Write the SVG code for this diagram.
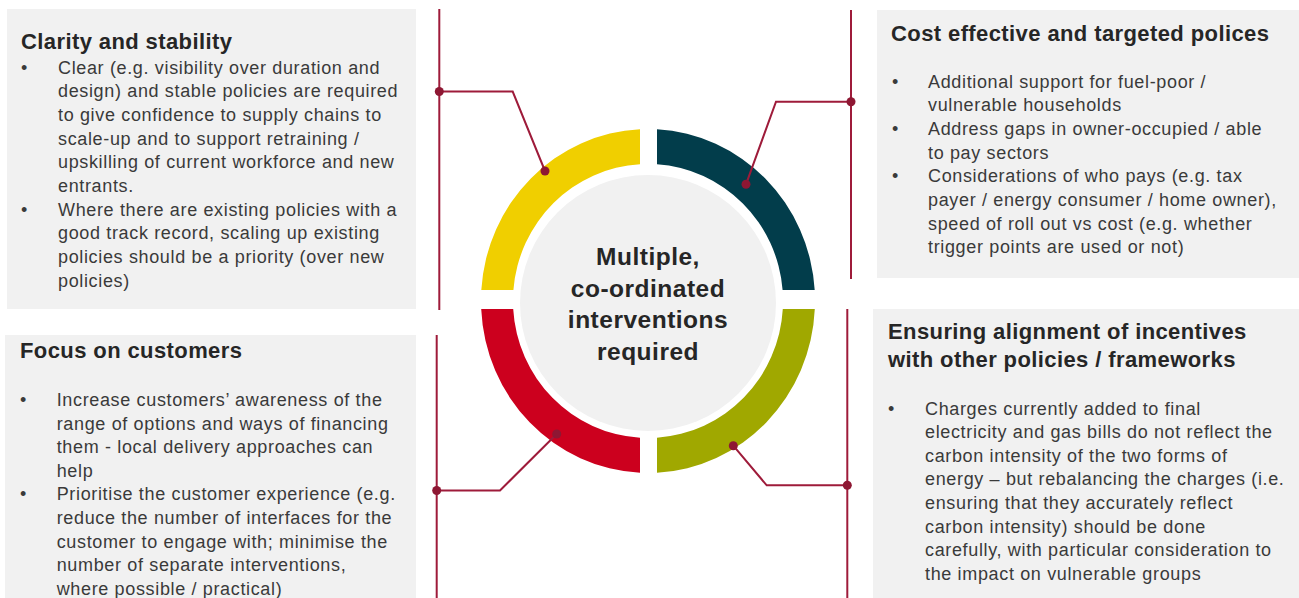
<svg xmlns="http://www.w3.org/2000/svg" width="1299" height="598" viewBox="0 0 1299 598">
<style>
.box{fill:#f1f1f1}
.t{font-family:"Liberation Sans",Arial,sans-serif;font-size:22px;font-weight:bold;fill:#262626;letter-spacing:0.4px}
.b{font-family:"Liberation Sans",Arial,sans-serif;font-size:18px;fill:#3a3a3a;letter-spacing:0.65px}
.c{font-family:"Liberation Sans",Arial,sans-serif;font-size:24.5px;font-weight:bold;fill:#262626;letter-spacing:0.5px;text-anchor:middle}
.ln{fill:none;stroke:#9e1b3a;stroke-width:2}
.dot{fill:#8e1733}
</style>
<rect width="1299" height="598" fill="#ffffff"/>
<g id="ring">
<path d="M481.3,290 A167,172 0 0 1 640,129.2 L640,164.2 A135,137 0 0 0 513.4,290 Z" fill="#f0cf00"/>
<path d="M657,129.25 A167,172 0 0 1 814.7,290 L782.6,290 A135,137 0 0 0 657,164.3 Z" fill="#023d4b"/>
<path d="M481.2,309 A167,172 0 0 0 640,472.8 L640,437.8 A135,137 0 0 1 513.2,309 Z" fill="#cc001e"/>
<path d="M657,472.75 A167,172 0 0 0 814.8,309 L782.8,309 A135,137 0 0 1 657,437.7 Z" fill="#a0a800"/>
<circle cx="648" cy="303" r="128" fill="#f1f1f1"/>
<text class="c" x="648" y="265">Multiple,</text>
<text class="c" x="648" y="296.5">co-ordinated</text>
<text class="c" x="648" y="328">interventions</text>
<text class="c" x="648" y="359.5">required</text>
</g>
<g id="clarity">
<rect class="box" x="7" y="9" width="409" height="300"/>
<text class="t" x="21" y="49">Clarity and stability</text>
<text class="b" x="21" y="73.5">•</text>
<text class="b" x="58" y="73.5">Clear (e.g. visibility over duration and</text>
<text class="b" x="58" y="97.2">design) and stable policies are required</text>
<text class="b" x="58" y="120.9">to give confidence to supply chains to</text>
<text class="b" x="58" y="144.6">scale-up and to support retraining /</text>
<text class="b" x="58" y="168.3">upskilling of current workforce and new</text>
<text class="b" x="58" y="192">entrants.</text>
<text class="b" x="21" y="215.7">•</text>
<text class="b" x="58" y="215.7">Where there are existing policies with a</text>
<text class="b" x="58" y="239.4">good track record, scaling up existing</text>
<text class="b" x="58" y="263.1">policies should be a priority (over new</text>
<text class="b" x="58" y="286.8">policies)</text>
</g>
<g id="cost">
<rect class="box" x="877" y="10" width="422" height="268"/>
<text class="t" x="891" y="41">Cost effective and targeted polices</text>
<text class="b" x="892" y="87.5">•</text>
<text class="b" x="928" y="87.5">Additional support for fuel-poor /</text>
<text class="b" x="928" y="111.2">vulnerable households</text>
<text class="b" x="892" y="134.9">•</text>
<text class="b" x="928" y="134.9">Address gaps in owner-occupied / able</text>
<text class="b" x="928" y="158.6">to pay sectors</text>
<text class="b" x="892" y="182.3">•</text>
<text class="b" x="928" y="182.3">Considerations of who pays (e.g. tax</text>
<text class="b" x="928" y="206">payer / energy consumer / home owner),</text>
<text class="b" x="928" y="229.7">speed of roll out vs cost (e.g. whether</text>
<text class="b" x="928" y="253.4">trigger points are used or not)</text>
</g>
<g id="customers">
<rect class="box" x="5" y="335" width="411" height="263"/>
<text class="t" x="20" y="358">Focus on customers</text>
<text class="b" x="20" y="406">•</text>
<text class="b" x="56.7" y="406">Increase customers’ awareness of the</text>
<text class="b" x="56.7" y="429.6">range of options and ways of financing</text>
<text class="b" x="56.7" y="453.2">them - local delivery approaches can</text>
<text class="b" x="56.7" y="476.8">help</text>
<text class="b" x="20" y="500.4">•</text>
<text class="b" x="56.7" y="500.4">Prioritise the customer experience (e.g.</text>
<text class="b" x="56.7" y="524">reduce the number of interfaces for the</text>
<text class="b" x="56.7" y="547.6">customer to engage with; minimise the</text>
<text class="b" x="56.7" y="571.2">number of separate interventions,</text>
<text class="b" x="56.7" y="594.8">where possible / practical)</text>
</g>
<g id="alignment">
<rect class="box" x="873" y="309" width="426" height="289"/>
<text class="t" x="888" y="339">Ensuring alignment of incentives</text>
<text class="t" x="888" y="367">with other policies / frameworks</text>
<text class="b" x="888" y="414.5">•</text>
<text class="b" x="925" y="414.5">Charges currently added to final</text>
<text class="b" x="925" y="438.1">electricity and gas bills do not reflect the</text>
<text class="b" x="925" y="461.7">carbon intensity of the two forms of</text>
<text class="b" x="925" y="485.3">energy – but rebalancing the charges (i.e.</text>
<text class="b" x="925" y="508.9">ensuring that they accurately reflect</text>
<text class="b" x="925" y="532.5">carbon intensity) should be done</text>
<text class="b" x="925" y="556.1">carefully, with particular consideration to</text>
<text class="b" x="925" y="579.7">the impact on vulnerable groups</text>
</g>
<g id="connectors">
<path class="ln" d="M439.3,9 V310"/>
<path class="ln" d="M436.7,335 V598"/>
<path class="ln" d="M851,10 V279"/>
<path class="ln" d="M847.3,309 V598"/>
<path class="ln" d="M439.3,91.5 H512.7 L545,171"/>
<path class="ln" d="M851,101.7 H776 L746,184.3"/>
<path class="ln" d="M436.7,490.5 H500 L556.7,434"/>
<path class="ln" d="M847.3,485.3 H766.7 L733.3,445.7"/>
<circle class="dot" cx="439.3" cy="91.5" r="4.5"/>
<circle class="dot" cx="545" cy="171" r="4.5"/>
<circle class="dot" cx="851" cy="101.7" r="4.5"/>
<circle class="dot" cx="746" cy="184.3" r="4.5"/>
<circle class="dot" cx="436.7" cy="490.5" r="4.5"/>
<circle class="dot" cx="556.7" cy="434" r="4.5"/>
<circle class="dot" cx="847.3" cy="485.3" r="4.5"/>
<circle class="dot" cx="733.3" cy="445.7" r="4.5"/>
</g>
</svg>
